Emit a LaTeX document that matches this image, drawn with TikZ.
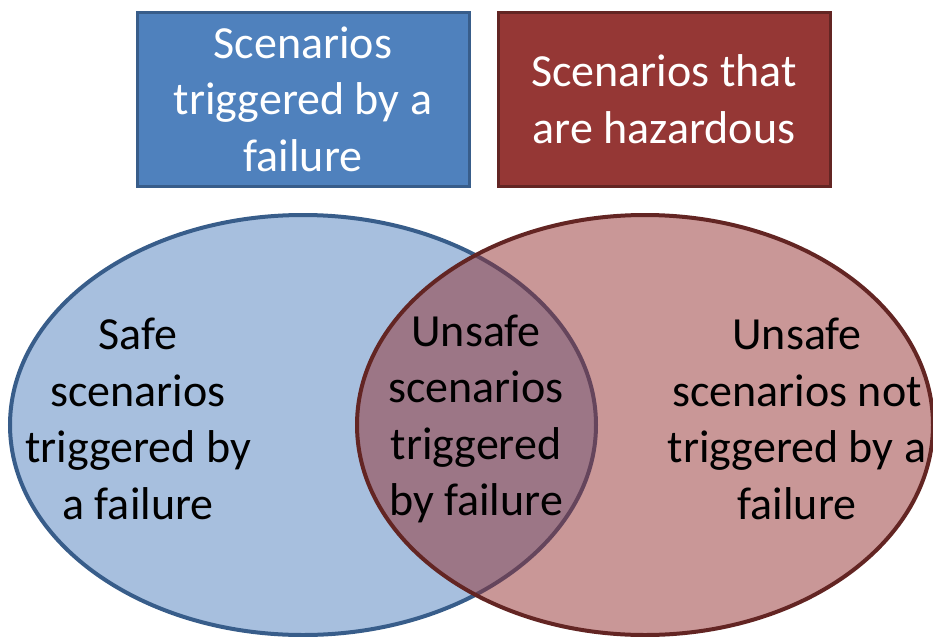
\documentclass[tikz,border=0pt]{standalone}
\usepackage{fontspec}
\setmainfont{Carlito}
\usepackage{tikz}
\usetikzlibrary{shapes.geometric}
\definecolor{failfill}{HTML}{4F81BD}
\definecolor{failline}{HTML}{385D8A}
\definecolor{hazfill}{HTML}{953735}
\definecolor{hazline}{HTML}{632523}
\definecolor{hazset}{HTML}{932F2F}
\definecolor{failset}{HTML}{A7BFDE}
\begin{document}
\begin{tikzpicture}[
  title/.style={draw,line width=3bp,minimum width=332bp,minimum height=174bp,inner sep=0pt,text=white,align=center},
  set/.style={draw,ellipse,line width=4bp,inner sep=0pt},
  label/.style={align=center,text=black}]
\useasboundingbox (0bp,0bp) rectangle (933bp,-637bp);
\fontsize{46bp}{56.5bp}\selectfont

\node (Fail) at (303bp,-99bp)[title,fill=failfill,draw=failline] {Scenarios\\triggered by a\\failure};
\node (Haz) at (664bp,-99bp)[title,fill=hazfill,draw=hazline] {Scenarios that\\are hazardous};

\node (FailSet) at (303bp,-425bp)[set,fill=failset,draw=failline,minimum width=586bp,minimum height=420bp] {};
\node (HazSet) at (645bp,-425bp)[set,fill=hazset,fill opacity=0.5,draw=hazline,minimum width=576bp,minimum height=420bp] {};

\node (Safe) at (138bp,-419bp)[label] {Safe\\scenarios\\triggered by\\a failure};
\node (Both) at (476bp,-419bp)[label] {Unsafe\\scenarios\\triggered\\by failure};
\node (Rest) at (797bp,-419bp)[label] {Unsafe\\scenarios not\\triggered by a\\failure};
\end{tikzpicture}
\end{document}
